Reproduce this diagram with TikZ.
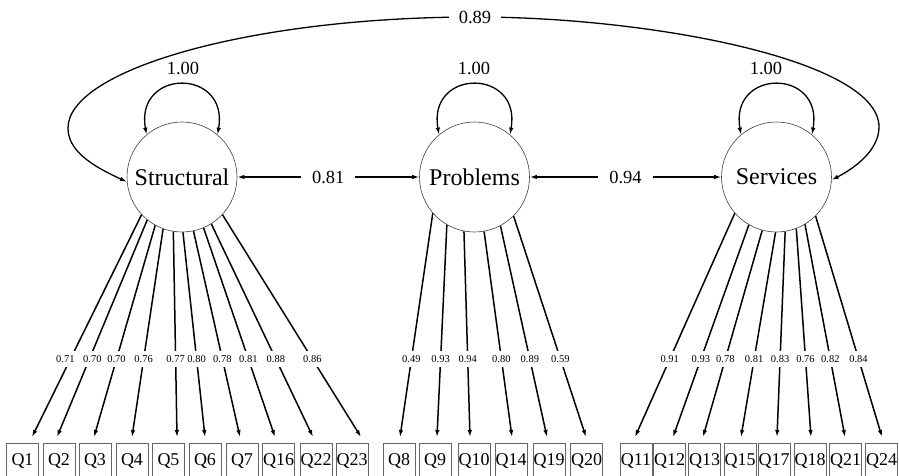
\documentclass[tikz,border=0pt]{standalone}
\usepackage{fontspec}
\setmainfont{Liberation Serif}
\usetikzlibrary{arrows.meta}
\tikzset{
  latent/.style={circle, draw=black!75, line width=0.6pt, minimum size=110pt, inner sep=0pt, font=\fontsize{24}{26}\selectfont},
  obs/.style={rectangle, draw=black!60, line width=0.8pt, minimum width=32pt, minimum height=36pt, inner sep=0pt, font=\fontsize{18}{19}\selectfont},
  tip/.style={-{Latex[length=7pt,width=4.5pt]}},
  load/.style={tip, line width=1.5pt},
  lab/.style={fill=white, inner xsep=0.5pt, inner ysep=4.5pt, font=\fontsize{10.5}{11}\selectfont},
  cov/.style={{Latex[length=7pt,width=4.5pt]}-{Latex[length=7pt,width=4.5pt]}, line width=1.3pt},
  bigl/.style={fill=white, font=\fontsize{18.5}{20}\selectfont, inner ysep=2pt},
}
\begin{document}
\begin{tikzpicture}[x=1pt,y=-1pt]
\useasboundingbox (0,0) rectangle (899,476);
% latent variables
\node[latent] (S) at (182,177) {Structural};
\node[latent] (P) at (474.5,177) {Problems};
\node[latent] (V) at (776.5,177) {Services};
% observed
\foreach \n/\x in {Q1/22.5,Q2/59,Q3/95,Q4/132,Q5/168.5,Q6/205,Q7/242,Q16/278.5,Q22/316,Q23/352,
  Q8/399,Q9/435,Q10/474,Q14/511,Q19/549,Q20/586.5,
  Q11/636,Q12/669.5,Q13/704.5,Q15/740,Q17/774,Q18/810,Q21/845.5,Q24/881.5}
  \node[obs] (\n) at (\x,461) {\n};
% tips
\foreach \n/\x in {Q1/32,Q2/57,Q3/94,Q4/132,Q5/177,Q6/205,Q7/240,Q16/275,Q22/313,Q23/361,
  Q8/400,Q9/437,Q10/470,Q14/512,Q19/547,Q20/586,
  Q11/635,Q12/673,Q13/703,Q15/741,Q17/777,Q18/811,Q21/845,Q24/882}
  \coordinate (t\n) at (\x,437);
% loadings (labels at height 359)
\foreach \c/\n/\a/\l/\dx in {S/Q1/-137/0.71/-5,S/Q2/-129.5/0.70/3,S/Q3/-119.4/0.70/0,S/Q4/-110/0.76/0,S/Q5/-99.5/0.77/0,
  S/Q6/-89/0.80/0,S/Q7/-78.5/0.78/0,S/Q16/-67.5/0.81/0,S/Q22/-58/0.88/0,S/Q23/-43.3/0.86/0,
  P/Q8/-139/0.49/0,P/Q9/-120/0.93/0,P/Q10/-101/0.94/0,P/Q14/-80/0.80/0,P/Q19/-62/0.89/0,P/Q20/-45.6/0.59/0,
  V/Q11/-139/0.91/0,V/Q12/-120/0.93/0,V/Q13/-105/0.78/0,V/Q15/-91.6/0.81/0,V/Q17/-81/0.83/0,
  V/Q18/-69/0.76/0,V/Q21/-59/0.82/0,V/Q24/-45.6/0.84/0}
  {
  \pgfmathsetmacro{\ys}{177-55*sin(\a)}
  \pgfmathsetmacro{\p}{(359-\ys)/(437-\ys)}
  \draw[load] (\c.\a) -- node[lab, pos=\p, xshift=\dx pt] (l\n) {\l} (t\n);
  }
% correlations between neighbours
\draw[cov] (S.east) -- node[bigl, inner xsep=11pt] (c1) {0.81} (P.west);
\draw[cov] (P.east) -- node[bigl, inner xsep=11pt] (c2) {0.94} (V.west);
% variances
\draw[cov] (S.130) .. controls (135,68) and (229,68) .. (S.50);
\node[font=\fontsize{18.5}{20}\selectfont] (vS) at (183,68) {1.00};
\draw[cov] (P.130) .. controls (427.5,68) and (521.5,68) .. (P.50);
\node[font=\fontsize{18.5}{20}\selectfont] (vP) at (474,68) {1.00};
\draw[cov] (V.130) .. controls (729.5,68) and (823.5,68) .. (V.50);
\node[font=\fontsize{18.5}{20}\selectfont] (vV) at (766,68) {1.00};
% long correlation
\coordinate (lft) at (68,128);
\coordinate (rgt) at (879,127);
\coordinate (top) at (475,17);
\draw[cov] (S.185) .. controls (90,165) and (68,150) .. (lft)
  .. controls (68,70) and (250,17) .. (top)
  .. controls (650,17) and (879,60) .. (rgt)
  .. controls (879,150) and (855,168) .. (V.-3);
\node[bigl, inner xsep=10pt] (c3) at (top) {0.89};
\end{tikzpicture}
\end{document}
